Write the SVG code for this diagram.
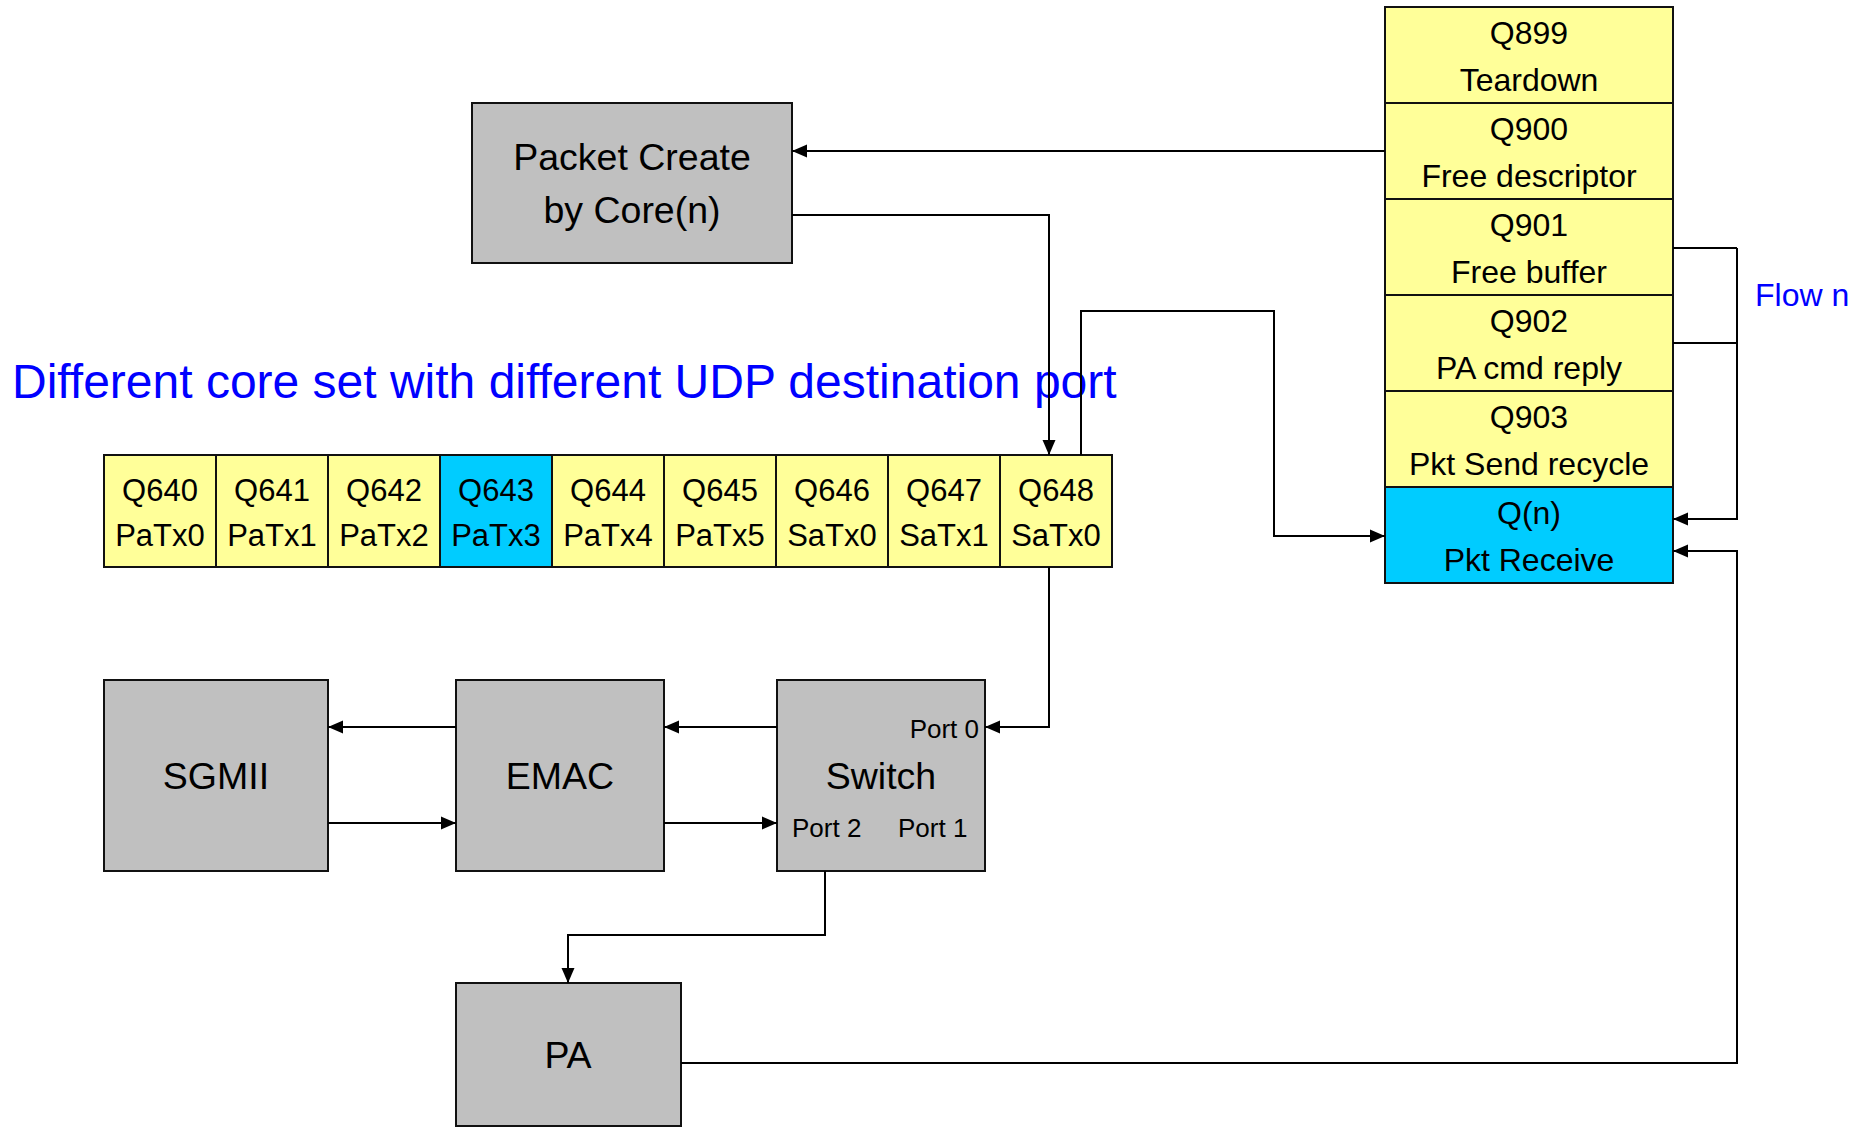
<svg xmlns="http://www.w3.org/2000/svg" width="1863" height="1128" viewBox="0 0 1863 1128">
<defs>
<marker id="arr" markerUnits="userSpaceOnUse" markerWidth="16" markerHeight="14" refX="15" refY="7" orient="auto">
<path d="M0,0.5 L15,7 L0,13.5 z" fill="#000"/>
</marker>
<style>
text{font-family:"Liberation Sans",Arial,sans-serif;fill:#000;text-anchor:middle}
.box{fill:#C0C0C0;stroke:#111;stroke-width:2}
.y{fill:#FFFF99;stroke:#111;stroke-width:2}
.c{fill:#00CCFF;stroke:#111;stroke-width:2}
.big{font-size:37.5px}
.q{font-size:31px}
.r{font-size:32px}
.port{font-size:26px}
.blue{fill:#0000FF;text-anchor:start}
.ln{fill:none;stroke:#000;stroke-width:2}
.ar{marker-end:url(#arr)}
</style>
</defs>
<rect width="1863" height="1128" fill="#fff"/>

<g id="title"><text class="blue" x="12" y="398" style="font-size:48px">Different core set with different UDP destination port</text></g>
<g id="flow-n"><text class="blue" x="1755" y="306" style="font-size:32px">Flow n</text></g>

<g id="packet-create">
<rect class="box" x="472" y="103" width="320" height="160"/>
<text class="big" x="632" y="170">Packet Create</text>
<text class="big" x="632" y="223">by Core(n)</text>
</g>

<g id="q640"><rect class="y" x="104" y="455" width="112" height="112"/><text class="q" x="160" y="501">Q640</text><text class="q" x="160" y="546">PaTx0</text></g>
<g id="q641"><rect class="y" x="216" y="455" width="112" height="112"/><text class="q" x="272" y="501">Q641</text><text class="q" x="272" y="546">PaTx1</text></g>
<g id="q642"><rect class="y" x="328" y="455" width="112" height="112"/><text class="q" x="384" y="501">Q642</text><text class="q" x="384" y="546">PaTx2</text></g>
<g id="q643"><rect class="c" x="440" y="455" width="112" height="112"/><text class="q" x="496" y="501">Q643</text><text class="q" x="496" y="546">PaTx3</text></g>
<g id="q644"><rect class="y" x="552" y="455" width="112" height="112"/><text class="q" x="608" y="501">Q644</text><text class="q" x="608" y="546">PaTx4</text></g>
<g id="q645"><rect class="y" x="664" y="455" width="112" height="112"/><text class="q" x="720" y="501">Q645</text><text class="q" x="720" y="546">PaTx5</text></g>
<g id="q646"><rect class="y" x="776" y="455" width="112" height="112"/><text class="q" x="832" y="501">Q646</text><text class="q" x="832" y="546">SaTx0</text></g>
<g id="q647"><rect class="y" x="888" y="455" width="112" height="112"/><text class="q" x="944" y="501">Q647</text><text class="q" x="944" y="546">SaTx1</text></g>
<g id="q648"><rect class="y" x="1000" y="455" width="112" height="112"/><text class="q" x="1056" y="501">Q648</text><text class="q" x="1056" y="546">SaTx0</text></g>

<g id="q899"><rect class="y" x="1385" y="7" width="288" height="96"/><text class="r" x="1529" y="44">Q899</text><text class="r" x="1529" y="91">Teardown</text></g>
<g id="q900"><rect class="y" x="1385" y="103" width="288" height="96"/><text class="r" x="1529" y="140">Q900</text><text class="r" x="1529" y="187">Free descriptor</text></g>
<g id="q901"><rect class="y" x="1385" y="199" width="288" height="96"/><text class="r" x="1529" y="236">Q901</text><text class="r" x="1529" y="283">Free buffer</text></g>
<g id="q902"><rect class="y" x="1385" y="295" width="288" height="96"/><text class="r" x="1529" y="332">Q902</text><text class="r" x="1529" y="379">PA cmd reply</text></g>
<g id="q903"><rect class="y" x="1385" y="391" width="288" height="96"/><text class="r" x="1529" y="428">Q903</text><text class="r" x="1529" y="475">Pkt Send recycle</text></g>
<g id="qn"><rect class="c" x="1385" y="487" width="288" height="96"/><text class="r" x="1529" y="524">Q(n)</text><text class="r" x="1529" y="571">Pkt Receive</text></g>

<g id="sgmii"><rect class="box" x="104" y="680" width="224" height="191"/><text class="big" x="216" y="789">SGMII</text></g>
<g id="emac"><rect class="box" x="456" y="680" width="208" height="191"/><text class="big" x="560" y="789">EMAC</text></g>
<g id="switch"><rect class="box" x="777" y="680" width="208" height="191"/>
<text class="big" x="881" y="789">Switch</text>
<text class="port" x="979" y="738" style="text-anchor:end">Port 0</text>
<text class="port" x="792" y="837" style="text-anchor:start">Port 2</text>
<text class="port" x="898" y="837" style="text-anchor:start">Port 1</text>
</g>
<g id="pa"><rect class="box" x="456" y="983" width="225" height="143"/><text class="big" x="568" y="1068">PA</text></g>

<g id="connectors">
<path class="ln ar" d="M1385,151 H792"/>
<path class="ln ar" d="M792,215 H1049 V455"/>
<path class="ln ar" d="M1081,455 V311 H1274 V536 H1385"/>
<path class="ln ar" d="M1049,567 V727 H985"/>
<path class="ln ar" d="M777,727 H664"/>
<path class="ln ar" d="M456,727 H328"/>
<path class="ln ar" d="M328,823 H456"/>
<path class="ln ar" d="M664,823 H777"/>
<path class="ln ar" d="M825,871 V935 H568 V983"/>
<path class="ln" d="M1673,248 H1737"/>
<path class="ln ar" d="M1673,343 H1737 V519 H1673"/>
<path class="ln" d="M1737,248 V343"/>
<path class="ln ar" d="M681,1063 H1737 V551 H1673"/>
</g>
</svg>
